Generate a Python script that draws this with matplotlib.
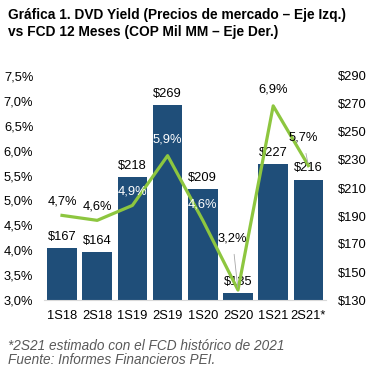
import matplotlib
matplotlib.use("Agg")
import matplotlib.pyplot as plt
import numpy as np

plt.rcParams['font.family'] = ['Liberation Sans', 'DejaVu Sans']

# datos
periodos = ['1S18', '2S18', '1S19', '2S19', '1S20', '2S20', '1S21', '2S21*']
fcd = [167, 164, 218, 269, 209, 135, 227, 216]          # COP Mil MM (eje der.)
dvd_yield = [4.7, 4.6, 4.9, 5.9, 4.6, 3.2, 6.9, 5.7]    # % (eje izq.)

# offsets de etiquetas de yield (puntos) y color
yl_off = [(0, 10), (0, 10), (0, 10), (0, 11.5), (0, 11.5), (-4, 37), (0, 12), (-4, 20)]
yl_col = ['black', 'black', 'white', 'white', 'white', 'black', 'black', 'black']
yl_leader = [False, False, False, False, False, True, False, True]

azul = '#1F4E79'
verde = '#8DC63F'

W, H = 381, 374
fig = plt.figure(figsize=(W / 100, H / 100), dpi=100)
ax = fig.add_axes([44.4 / W, (H - 300) / H, (326 - 44.4) / W, (300 - 76) / H])
ax2 = ax.twinx()

x = np.arange(len(periodos))

# barras (eje derecho -> ax, ticks a la derecha)
ax.bar(x, fcd, width=0.84, color=azul, zorder=2)
ax.set_ylim(130, 290)
ax.set_xlim(-0.5, len(periodos) - 0.5)
ax.set_yticks(np.arange(130, 291, 20))
ax.set_yticklabels(['$%d' % v for v in np.arange(130, 291, 20)])
ax.yaxis.tick_right()
ax.tick_params(axis='y', length=0, pad=8.5, labelsize=9.3)
ax.set_xticks(x)
ax.set_xticklabels(periodos)
ax.tick_params(axis='x', length=0, pad=7, labelsize=9.3)
for i, v in enumerate(fcd):
    ax.annotate('$%d' % v, (x[i], v), xytext=(0, 8), textcoords='offset points',
                ha='center', va='center', fontsize=9.3, zorder=5)

# linea (eje izquierdo -> ax2)
ax2.plot(x, dvd_yield, color=verde, lw=2.3, zorder=3)
ax2.set_ylim(3.0, 7.5)
ticks = np.arange(3.0, 7.51, 0.5)
ax2.set_yticks(ticks)
ax2.set_yticklabels([('%.1f%%' % t).replace('.', ',') for t in ticks])
ax2.yaxis.tick_left()
ax2.tick_params(axis='y', length=0, pad=8, labelsize=9.3)
for i, v in enumerate(dvd_yield):
    txt = ('%.1f%%' % v).replace('.', ',')
    if yl_leader[i]:
        ax2.annotate(txt, (x[i], v), xytext=yl_off[i], textcoords='offset points',
                     ha='center', va='center', fontsize=9.3, color=yl_col[i],
                     arrowprops=dict(arrowstyle='-', color='#A6A6A6', lw=0.6,
                                     shrinkA=5, shrinkB=2))
    else:
        ax2.annotate(txt, (x[i], v), xytext=yl_off[i], textcoords='offset points',
                     ha='center', va='center', fontsize=9.3, color=yl_col[i])

for a in (ax, ax2):
    for s in a.spines.values():
        s.set_visible(False)
ax.spines['bottom'].set_visible(True)
ax.spines['bottom'].set_color('#D9D9D9')
ax.spines['bottom'].set_linewidth(0.8)

fig.text(8 / W, 1 - 15 / H, 'Gráfica 1. DVD Yield (Precios de mercado – Eje Izq.)',
         fontsize=9.9, fontweight='bold', va='center', ha='left')
fig.text(8 / W, 1 - 32 / H, 'vs FCD 12 Meses (COP Mil MM – Eje Der.)',
         fontsize=9.9, fontweight='bold', va='center', ha='left')

fig.text(8 / W, 1 - 346 / H, '*2S21 estimado con el FCD histórico de 2021',
         fontsize=9.8, style='italic', color='#595959', va='center', ha='left')
fig.text(8 / W, 1 - 360 / H, 'Fuente: Informes Financieros PEI.',
         fontsize=9.8, style='italic', color='#595959', va='center', ha='left')

fig.savefig('out.png', dpi=100)
